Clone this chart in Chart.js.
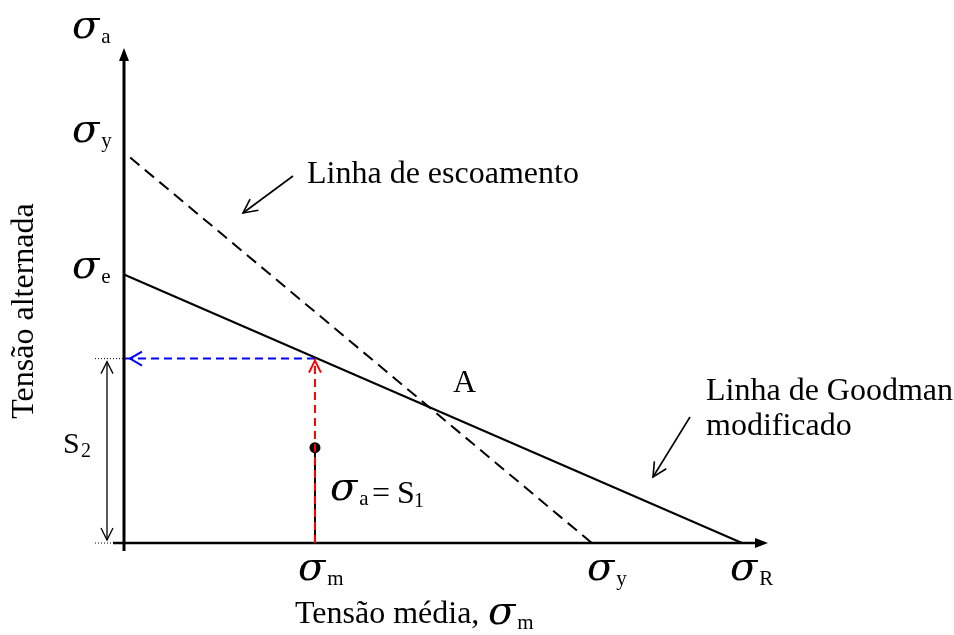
<!DOCTYPE html>
<html>
<head>
  <meta charset="UTF-8">
  <title>Diagrama de Goodman</title>
  <script src="https://cdn.jsdelivr.net/npm/chart.js@4"></script>
  <style>
    body { margin: 0; background: #fff; }
    canvas { display: block; }
  </style>
</head>
<body>
  <canvas id="goodman" width="954" height="635"></canvas>

  <script>
    // valores normalizados por sigma_R
    const sigmaR = 1.0;          // limite de resistencia (eixo x)
    const sigmaE = 0.434;        // limite de fadiga (eixo y)
    const sigmaYm = 0.757;       // escoamento no eixo x
    const sigmaYa = 0.631;       // escoamento no eixo y
    const sigmaM = 0.309;        // tensao media do ponto de trabalho
    const sigmaA = 0.154;        // tensao alternada S1
    const s2 = 0.298;            // S2 lido sobre a linha de Goodman

    const goodmanLine = [{ x: 0, y: sigmaE }, { x: sigmaR, y: 0 }];
    const yieldLine = [{ x: 0.01, y: 0.623 }, { x: sigmaYm, y: 0 }];
    const redUp = [{ x: sigmaM, y: 0 }, { x: sigmaM, y: s2 }];
    const blueLeft = [{ x: sigmaM, y: s2 }, { x: 0, y: s2 }];
    const loadLine = [{ x: sigmaM, y: 0 }, { x: sigmaM, y: sigmaA }];

    const SERIF = '"Liberation Serif", "Times New Roman", serif';
    const GREEK = '"DejaVu Serif", serif';

    function openHead(ctx, x, y, ang, len, half) {
      ctx.beginPath();
      ctx.moveTo(x - len * Math.cos(ang) + half * Math.sin(ang), y - len * Math.sin(ang) - half * Math.cos(ang));
      ctx.lineTo(x, y);
      ctx.lineTo(x - len * Math.cos(ang) - half * Math.sin(ang), y - len * Math.sin(ang) + half * Math.cos(ang));
      ctx.stroke();
    }

    function solidHead(ctx, x, y, ang, len, half) {
      ctx.beginPath();
      ctx.moveTo(x, y);
      ctx.lineTo(x - len * Math.cos(ang) + half * Math.sin(ang), y - len * Math.sin(ang) - half * Math.cos(ang));
      ctx.lineTo(x - len * Math.cos(ang) - half * Math.sin(ang), y - len * Math.sin(ang) + half * Math.cos(ang));
      ctx.closePath();
      ctx.fill();
    }

    function arrow(ctx, x1, y1, x2, y2) {
      ctx.beginPath();
      ctx.moveTo(x1, y1);
      ctx.lineTo(x2, y2);
      ctx.stroke();
      openHead(ctx, x2, y2, Math.atan2(y2 - y1, x2 - x1), 14, 7);
    }

    // sigma com subscrito
    function sigma(ctx, x, y, sub) {
      ctx.font = 'italic 40px ' + GREEK;
      ctx.fillText('σ', x, y);
      const w = ctx.measureText('σ').width;
      ctx.font = '21px ' + SERIF;
      ctx.fillText(sub, x + w + 2, y + 5);
    }

    const axesPlugin = {
      id: 'axes',
      beforeDatasetsDraw(chart) {
        const { ctx, scales: { x, y } } = chart;
        const x0 = x.getPixelForValue(0);
        const y0 = y.getPixelForValue(0);
        ctx.save();
        ctx.strokeStyle = '#000';
        ctx.fillStyle = '#000';

        // eixo vertical
        ctx.lineWidth = 3;
        ctx.beginPath();
        ctx.moveTo(x0, y0 + 8);
        ctx.lineTo(x0, 58);
        ctx.stroke();
        solidHead(ctx, x0, 48, -Math.PI / 2, 13, 5);

        // eixo horizontal
        ctx.lineWidth = 2.5;
        ctx.beginPath();
        ctx.moveTo(x0 - 11, y0);
        ctx.lineTo(757, y0);
        ctx.stroke();
        solidHead(ctx, 768, y0, 0, 13, 5);

        // linhas pontilhadas de referencia
        const ys2 = y.getPixelForValue(s2);
        ctx.lineWidth = 1;
        ctx.setLineDash([1, 2]);
        ctx.beginPath();
        ctx.moveTo(95, ys2); ctx.lineTo(x0, ys2);
        ctx.moveTo(95, y0); ctx.lineTo(x0 - 11, y0);
        ctx.stroke();
        ctx.setLineDash([]);

        // cota S2
        ctx.lineWidth = 1.3;
        ctx.beginPath();
        ctx.moveTo(107, ys2 + 3); ctx.lineTo(107, y0 - 3);
        ctx.stroke();
        openHead(ctx, 107, ys2 + 3, -Math.PI / 2, 12, 6);
        openHead(ctx, 107, y0 - 3, Math.PI / 2, 12, 6);
        ctx.restore();
      },
      afterDatasetsDraw(chart) {
        const { ctx, scales: { x, y } } = chart;
        const xm = x.getPixelForValue(sigmaM);
        const ys2 = y.getPixelForValue(s2);
        ctx.save();
        ctx.lineWidth = 2;

        // pontas das setas tracejadas
        ctx.strokeStyle = '#ff0000';
        openHead(ctx, xm, ys2 + 2, -Math.PI / 2, 12, 6);
        ctx.strokeStyle = '#0000ff';
        openHead(ctx, x.getPixelForValue(0) + 6, ys2, Math.PI, 12, 7);

        // setas das legendas
        ctx.strokeStyle = '#000';
        ctx.lineWidth = 1.6;
        arrow(ctx, 293, 176, 243, 213);
        arrow(ctx, 690, 417, 653, 477);

        // textos
        ctx.fillStyle = '#000';
        sigma(ctx, 72, 38, 'a');
        sigma(ctx, 72, 142, 'y');
        sigma(ctx, 72, 278, 'e');
        sigma(ctx, xm - 17, 580, 'm');
        sigma(ctx, 587, 580, 'y');
        sigma(ctx, 730, 580, 'R');

        ctx.font = '32px ' + SERIF;
        ctx.fillText('Linha de escoamento', 307, 183);
        ctx.fillText('A', 453, 392);
        ctx.fillText('Linha de Goodman', 706, 400);
        ctx.fillText('modificado', 706, 435);
        ctx.fillText('Tensão média,', 295, 623);
        sigma(ctx, 488, 624, 'm');

        // sigma_a = S1
        sigma(ctx, 330, 500, 'a');
        ctx.font = '32px ' + SERIF;
        ctx.fillText('=', 372, 503);
        ctx.fillText('S', 397, 503);
        ctx.font = '20px ' + SERIF;
        ctx.fillText('1', 414, 507);

        // S2
        ctx.font = '30px ' + SERIF;
        ctx.fillText('S', 63, 453);
        ctx.font = '20px ' + SERIF;
        ctx.fillText('2', 81, 457);

        // titulo do eixo vertical
        ctx.translate(33, 311);
        ctx.rotate(-Math.PI / 2);
        ctx.font = '32px ' + SERIF;
        ctx.textAlign = 'center';
        ctx.fillText('Tensão alternada', 0, 0);
        ctx.restore();
      }
    };

    new Chart(document.getElementById('goodman').getContext('2d'), {
      type: 'scatter',
      data: {
        datasets: [
          { data: redUp, borderColor: '#ff0000', borderWidth: 2, borderDash: [8, 5] },
          { data: blueLeft, borderColor: '#0000ff', borderWidth: 2, borderDash: [8, 5] },
          { data: yieldLine, borderColor: '#000', borderWidth: 2, borderDash: [12, 7] },
          { data: goodmanLine, borderColor: '#000', borderWidth: 2 },
          {
            data: loadLine, borderColor: '#000', borderWidth: 2,
            pointRadius: [0, 5.5], pointBackgroundColor: '#000', pointBorderWidth: 0
          }
        ].map(d => Object.assign({ showLine: true, pointRadius: 0, clip: false, fill: false }, d))
      },
      options: {
        responsive: false,
        animation: false,
        layout: { padding: { left: 124, right: 212, top: 48, bottom: 92 } },
        scales: {
          x: { type: 'linear', min: 0, max: 1, display: false },
          y: { type: 'linear', min: 0, max: 0.8, display: false }
        },
        plugins: { legend: { display: false }, tooltip: { enabled: false } }
      },
      plugins: [axesPlugin]
    });
  </script>
</body>
</html>
